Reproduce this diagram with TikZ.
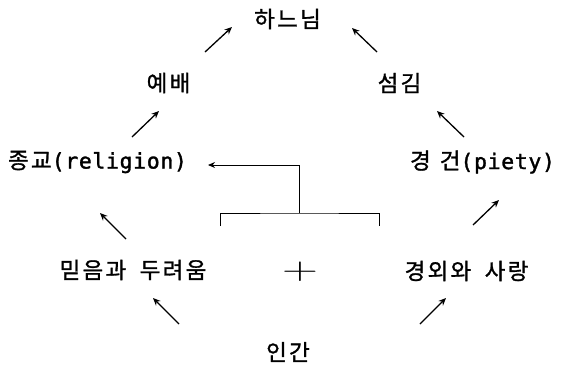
\documentclass[tikz,border=0pt]{standalone}
\usepackage{fontspec}
\usetikzlibrary{arrows.meta}
\newfontfamily\krfont[LetterSpace=10,FakeBold=1.2]{Noto Sans CJK KR}
\newfontfamily\latfont[FakeBold=1.5,LetterSpace=3]{DejaVu Sans Mono}
\begin{document}
\begin{tikzpicture}[x=1pt,y=-1pt,
  lbl/.style={inner sep=0pt,font=\krfont\fontsize{22.5}{26}\selectfont},
  arr/.style={line width=1.3pt,-{Stealth[length=7.5pt,width=6.5pt]}},
  brk/.style={line width=0.9pt}]
\useasboundingbox (0,0) rectangle (561,368);
% nodes
\node[lbl] (god)   at (287.5,19)  {하느님};
\node[lbl] (wor)   at (168.5,83)  {예배};
\node[lbl] (srv)   at (399.5,83)  {섬김};
\node[lbl] (rel)   at (97.5,162)  {종교{\latfont\fontsize{21.5}{26}\selectfont(religion)}};
\node[lbl] (pie)   at (482.5,162) {경\hspace{0.4em}건{\latfont\fontsize{21.5}{26}\selectfont(piety)}};
\node[lbl] (fai)   at (133,270)   {믿음과\hspace{0.6em}두려움};
\node[inner sep=0pt] (plus) at (300,272) {\scalebox{2.0}[1.25]{\fontsize{28}{32}\selectfont$+$}};
\node[lbl] (awe)   at (466.5,271) {경외와\hspace{0.6em}사랑};
\node[lbl] (man)   at (288,352)   {인간};
% arrow end points
\coordinate (a1s) at (205,52);  \coordinate (a1e) at (232,27);
\coordinate (a2s) at (377,52);  \coordinate (a2e) at (352,28);
\coordinate (a3s) at (132,137); \coordinate (a3e) at (159,111);
\coordinate (a4s) at (464,137); \coordinate (a4e) at (437,111);
\coordinate (a5s) at (126,239); \coordinate (a5e) at (100,213);
\coordinate (a6s) at (473,225); \coordinate (a6e) at (499,200);
\coordinate (a7s) at (179,324); \coordinate (a7e) at (153,298);
\coordinate (a8s) at (420,324); \coordinate (a8e) at (446,298);
\draw[arr] (a1s) -- (a1e);
\draw[arr] (a2s) -- (a2e);
\draw[arr] (a3s) -- (a3e);
\draw[arr] (a4s) -- (a4e);
\draw[arr] (a5s) -- (a5e);
\draw[arr] (a6s) -- (a6e);
\draw[arr] (a7s) -- (a7e);
\draw[arr] (a8s) -- (a8e);
% bracket
\coordinate (bl) at (220,226); \coordinate (br) at (379,226);
\coordinate (bm) at (299,213); \coordinate (bt) at (208,165);
\draw[brk] (bl) |- (bm) -| (br);
\draw[brk,-{Stealth[length=7pt,width=6pt]}] (bm) |- (bt);
\end{tikzpicture}
\end{document}
